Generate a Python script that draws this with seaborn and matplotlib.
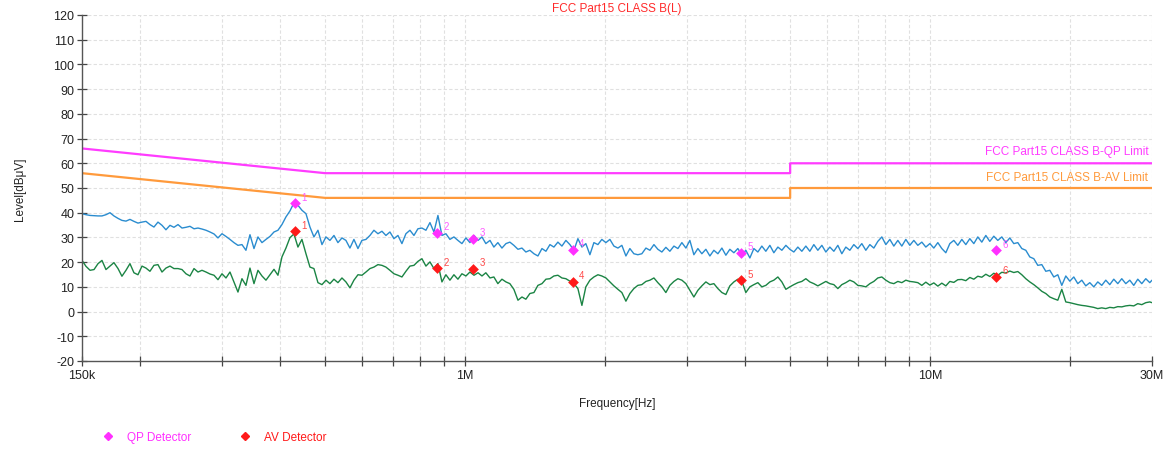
import numpy as np
import pandas as pd
import matplotlib
matplotlib.use("Agg")
import matplotlib.pyplot as plt
import matplotlib.transforms as mtransforms
from matplotlib.lines import Line2D
import seaborn as sns

# ---------------- data ----------------
freq_khz = [150.0, 153.0, 156.1, 159.2, 162.4, 165.6, 168.9, 172.3, 175.7, 179.3,
            182.8, 186.5, 190.2, 194.0, 197.9, 201.9, 205.9, 210.0, 214.2, 218.5,
            222.9, 227.3, 231.9, 236.5, 241.3, 246.1, 251.0, 256.0, 261.2, 266.4,
            271.7, 277.2, 282.7, 288.4, 294.1, 300.0, 306.0, 312.1, 318.3, 324.7,
            331.2, 337.8, 344.6, 351.5, 358.5, 365.7, 373.0, 380.4, 388.1, 395.8,
            403.7, 411.8, 420.0, 428.4, 437.0, 445.7, 454.7, 463.8, 473.0, 482.5,
            492.2, 502.0, 512.0, 522.3, 532.7, 543.4, 554.2, 565.3, 576.6, 588.2,
            599.9, 611.9, 624.2, 636.6, 649.4, 662.4, 675.6, 689.1, 702.9, 717.0,
            731.3, 745.9, 760.9, 776.1, 791.6, 807.4, 823.6, 840.1, 856.9, 874.0,
            891.5, 909.3, 927.5, 946.0, 965.0, 984.3, 1004, 1024, 1045, 1066,
            1087, 1108, 1131, 1153, 1176, 1200, 1224, 1248, 1273, 1299,
            1325, 1351, 1378, 1406, 1434, 1463, 1492, 1522, 1552, 1583,
            1615, 1647, 1680, 1714, 1748, 1783, 1818, 1855, 1892, 1930,
            1968, 2008, 2048, 2089, 2131, 2173, 2217, 2261, 2306, 2352,
            2399, 2448, 2497, 2547, 2597, 2649, 2702, 2756, 2812, 2868,
            2925, 2984, 3043, 3104, 3166, 3229, 3294, 3360, 3427, 3496,
            3566, 3637, 3709, 3784, 3859, 3937, 4015, 4096, 4178, 4261,
            4346, 4433, 4522, 4612, 4705, 4799, 4895, 4992, 5092, 5194,
            5298, 5404, 5512, 5622, 5735, 5850, 5967, 6086, 6208, 6332,
            6458, 6587, 6719, 6853, 6990, 7130, 7273, 7419, 7567, 7718,
            7873, 8030, 8191, 8355, 8522, 8692, 8866, 9043, 9224, 9409,
            9597, 9789, 9985, 10184, 10388, 10596, 10808, 11024, 11244, 11469,
            11699, 11933, 12171, 12415, 12663, 12916, 13175, 13438, 13707, 13981,
            14261, 14546, 14837, 15133, 15436, 15745, 16060, 16381, 16709, 17043,
            17384, 17731, 18086, 18448, 18817, 19193, 19577, 19968, 20368, 20775,
            21191, 21614, 22046, 22487, 22937, 23395, 23863, 24340, 24827, 25324,
            25830, 26347, 26874, 27412, 27960, 28519, 29090, 29672, 30000]

qp_level = [39.6, 39.2, 38.9, 38.8, 38.7, 38.7, 39.2, 40.0, 38.7, 37.7,
            36.9, 36.6, 37.3, 36.5, 35.8, 36.2, 36.5, 35.2, 34.2, 36.2,
            34.9, 33.1, 34.9, 34.1, 35.2, 33.8, 34.1, 34.5, 33.5, 33.8,
            33.4, 32.9, 32.2, 31.4, 29.8, 31.5, 30.4, 29.2, 27.9, 26.8,
            27.1, 24.8, 31.1, 25.5, 30.2, 27.9, 29.2, 30.4, 32.2, 32.9,
            35.2, 38.3, 40.7, 44.0, 43.0, 41.0, 39.6, 34.2, 30.2, 32.9,
            27.1, 30.2, 28.8, 30.8, 27.9, 29.8, 28.8, 25.7, 29.2, 25.5,
            28.8, 29.2, 30.8, 32.9, 31.5, 32.5, 30.8, 32.2, 29.5, 30.8,
            27.5, 31.5, 32.9, 30.8, 33.5, 33.8, 32.9, 36.0, 32.2, 38.9,
            30.8, 31.5, 29.2, 30.2, 28.8, 27.5, 29.8, 27.9, 30.8, 28.8,
            30.2, 27.5, 28.8, 26.1, 27.9, 25.7, 27.5, 28.1, 26.8, 25.2,
            25.7, 24.1, 24.8, 23.4, 22.5, 25.5, 24.4, 27.1, 26.1, 28.1,
            26.5, 28.8, 27.1, 24.8, 29.5, 26.1, 27.5, 23.0, 27.9, 27.1,
            29.2, 27.9, 29.2, 26.5, 25.7, 26.8, 22.5, 25.5, 23.4, 23.0,
            23.4, 25.7, 24.8, 27.1, 25.2, 24.1, 26.0, 24.4, 26.5, 25.5,
            27.9, 25.7, 28.8, 23.0, 25.5, 23.4, 25.2, 22.5, 24.8, 23.4,
            25.7, 22.8, 25.2, 23.8, 25.5, 23.0, 24.8, 21.7, 25.5, 24.1,
            26.5, 24.4, 26.8, 23.8, 26.1, 24.8, 26.8, 25.2, 24.1, 26.1,
            24.4, 26.5, 24.4, 27.1, 24.8, 26.8, 24.1, 26.1, 24.4, 26.8,
            23.4, 26.1, 24.8, 27.1, 25.5, 27.5, 24.8, 27.1, 25.7, 28.4,
            30.2, 27.1, 29.2, 26.5, 28.8, 26.5, 29.2, 26.8, 28.8, 26.8,
            28.1, 26.1, 27.5, 25.7, 27.9, 25.5, 23.8, 27.5, 28.8, 26.8,
            29.2, 27.1, 29.5, 27.5, 30.2, 28.1, 30.8, 28.4, 30.5, 28.8,
            30.2, 27.9, 29.8, 27.5, 27.9, 25.5, 24.8, 22.1, 21.4, 18.7,
            19.0, 16.3, 16.7, 14.0, 14.9, 10.6, 14.4, 12.3, 14.0, 11.3,
            12.7, 10.4, 11.7, 10.0, 12.0, 10.6, 12.7, 10.9, 13.1, 11.3,
            13.3, 11.3, 12.7, 10.6, 13.1, 11.3, 13.3, 11.7, 12.7]

av_level = [20.7, 18.3, 16.7, 17.0, 19.4, 20.7, 17.0, 18.4, 19.8, 17.4,
            14.3, 16.7, 19.4, 15.7, 14.9, 18.4, 17.6, 16.3, 18.7, 19.0,
            16.0, 17.6, 18.4, 17.4, 17.4, 17.0, 15.3, 14.4, 17.4, 16.0,
            16.7, 16.0, 15.2, 14.7, 12.9, 15.3, 13.6, 16.0, 12.0, 7.9,
            13.3, 10.6, 17.6, 11.3, 16.7, 14.4, 12.7, 14.9, 17.1, 14.7,
            22.1, 25.7, 29.9, 31.4, 26.1, 29.2, 23.4, 18.0, 17.4, 11.7,
            10.9, 12.7, 11.3, 13.1, 11.7, 13.6, 12.0, 9.6, 12.7, 14.9,
            14.7, 16.0, 17.4, 18.0, 19.0, 18.7, 18.0, 16.7, 15.3, 14.7,
            14.0, 16.3, 18.4, 18.7, 20.3, 21.4, 18.4, 20.1, 17.4, 19.4,
            12.0, 14.9, 12.7, 14.9, 13.1, 15.3, 14.4, 16.0, 14.7, 15.7,
            14.4, 15.7, 13.6, 14.0, 11.3, 13.1, 12.0, 11.3, 9.0, 4.6,
            5.9, 5.0, 7.3, 7.7, 10.6, 11.3, 13.1, 13.3, 14.4, 14.7,
            13.6, 13.3, 12.3, 11.3, 9.3, 2.5, 10.0, 12.7, 14.0, 14.9,
            14.4, 13.6, 12.0, 10.4, 9.0, 7.7, 4.2, 7.3, 9.3, 10.6,
            10.9, 12.2, 12.7, 13.6, 11.7, 10.0, 7.7, 10.6, 12.2, 13.3,
            12.7, 11.3, 8.6, 5.9, 8.6, 10.4, 12.0, 10.9, 11.3, 9.3,
            7.7, 6.9, 10.4, 12.0, 13.1, 12.2, 7.7, 10.0, 10.9, 11.7,
            10.0, 10.6, 12.0, 12.7, 14.0, 12.0, 9.0, 10.0, 10.9, 11.7,
            12.2, 13.3, 12.0, 11.3, 10.4, 11.3, 12.2, 11.3, 10.9, 9.3,
            10.9, 11.7, 12.7, 12.0, 10.6, 10.4, 10.0, 11.3, 12.2, 13.6,
            14.0, 12.7, 11.7, 11.3, 12.2, 11.7, 12.7, 12.2, 12.0, 11.7,
            10.6, 11.9, 10.7, 11.6, 10.3, 11.5, 10.4, 12.2, 11.8, 12.9,
            13.0, 12.5, 13.8, 13.1, 14.3, 13.9, 15.1, 14.2, 15.5, 14.7,
            15.9, 15.6, 16.4, 15.8, 16.2, 14.9, 13.3, 12.0, 10.9, 9.6,
            8.2, 7.3, 5.9, 5.2, 4.6, 9.0, 3.9, 3.6, 3.2, 2.8,
            2.5, 2.3, 2.0, 1.7, 1.2, 1.5, 1.2, 1.7, 1.5, 2.0,
            1.9, 2.3, 2.5, 2.3, 3.2, 2.8, 3.6, 3.9, 3.6]

limit_freq_khz = [150, 500, 5000, 5000, 30000]
qp_limit = [66, 56, 56, 60, 60]
av_limit = [56, 46, 46, 50, 50]

marker_freq_khz = [430, 871, 1041, 1706, 3920, 13860]
qp_marker = [43.9, 31.9, 29.5, 25.0, 23.8, 24.8]
av_marker = [32.6, 17.6, 17.4, 12.0, 12.7, 14.0]
marker_labels = ["1", "2", "3", "4", "5", "6"]

y_ticks = list(range(-20, 121, 10))
x_major_khz = [150, 1000, 10000, 30000]
x_major_labels = ["150k", "1M", "10M", "30M"]
x_minor_khz = [200, 300, 400, 500, 600, 700, 800, 900,
               2000, 3000, 4000, 5000, 6000, 7000, 8000, 9000, 20000]

title = "FCC Part15 CLASS B(L)"
qp_limit_name = "FCC Part15 CLASS B-QP Limit"
av_limit_name = "FCC Part15 CLASS B-AV Limit"

# ---------------- styling ----------------
C_QP_LIM = "#ff3cff"
C_AV_LIM = "#ff9a3c"
C_QP_TRACE = "#2a8ccf"
C_AV_TRACE = "#1b8444"
C_QP_MARK = "#ff30ff"
C_AV_MARK = "#ff1a1a"

sns.set_theme(style="white")
plt.rcParams["font.family"] = ["Liberation Sans", "DejaVu Sans"]
plt.rcParams["axes.unicode_minus"] = False

W, H = 1172, 452
fig = plt.figure(figsize=(W / 100, H / 100), dpi=100)
ax = fig.add_axes([82 / W, 1 - 362 / H, 1070 / W, 346 / H])
ax.set_xscale("log")

scan = pd.DataFrame({"freq": np.array(freq_khz) * 1e3,
                     "QP": qp_level, "AV": av_level})
lim = pd.DataFrame({"freq": np.array(limit_freq_khz) * 1e3,
                    "QP": qp_limit, "AV": av_limit})
mk = pd.DataFrame({"freq": np.array(marker_freq_khz) * 1e3,
                   "QP": qp_marker, "AV": av_marker})

sns.lineplot(data=scan, x="freq", y="QP", ax=ax, color=C_QP_TRACE, lw=1.0,
             estimator=None, sort=False)
sns.lineplot(data=scan, x="freq", y="AV", ax=ax, color=C_AV_TRACE, lw=1.0,
             estimator=None, sort=False)
sns.lineplot(data=lim, x="freq", y="QP", ax=ax, color=C_QP_LIM, lw=1.6,
             estimator=None, sort=False)
sns.lineplot(data=lim, x="freq", y="AV", ax=ax, color=C_AV_LIM, lw=1.6,
             estimator=None, sort=False)
sns.scatterplot(data=mk, x="freq", y="QP", ax=ax, color=C_QP_MARK, marker="D",
                s=30, linewidth=0, zorder=5)
sns.scatterplot(data=mk, x="freq", y="AV", ax=ax, color=C_AV_MARK, marker="D",
                s=30, linewidth=0, zorder=5)

for f, q, a, t in zip(mk["freq"], qp_marker, av_marker, marker_labels):
    ax.annotate(t, (f, q), xytext=(4.5, 2.5), textcoords="offset points",
                color="#ff5cff", fontsize=7)
    ax.annotate(t, (f, a), xytext=(4.5, 2.5), textcoords="offset points",
                color="#ff4a4a", fontsize=7)

ax.set_xlim(150e3, 30e6)
ax.set_ylim(-20, 120)
ax.set_yticks(y_ticks)
ax.set_xticks([v * 1e3 for v in x_major_khz])
ax.set_xticklabels(x_major_labels)
ax.set_xticks([v * 1e3 for v in x_minor_khz], minor=True)
ax.xaxis.set_minor_formatter(plt.NullFormatter())

grid_kw = dict(color="#e0e0e0", linestyle=(0, (3, 2)), linewidth=0.8)
ax.grid(True, axis="y", which="major", **grid_kw)
ax.grid(True, axis="x", which="both", **grid_kw)
ax.set_axisbelow(True)

for s in ["top", "right"]:
    ax.spines[s].set_visible(False)
for s in ["left", "bottom"]:
    ax.spines[s].set_color("#555555")
    ax.spines[s].set_linewidth(1.0)

ax.tick_params(axis="both", which="both", direction="inout", length=7,
               width=0.9, color="#444444", labelsize=9, labelcolor="#222222",
               left=True, bottom=True, pad=2)

ax.set_xlabel("Frequency[Hz]", fontsize=8.5, color="#222222", labelpad=12)
ax.set_ylabel("Level[dBμV]", fontsize=8.5, color="#222222", labelpad=20)

fig.text(617 / W, 1 - 9 / H, title, color="#ff2a2a", fontsize=8.5,
         ha="center", va="center")

blend = mtransforms.blended_transform_factory(ax.transAxes, ax.transData)
ax.text(0.9965, 65.0, qp_limit_name, transform=blend, ha="right", va="center",
        color=C_QP_LIM, fontsize=8.5)
ax.text(0.9965, 54.5, av_limit_name, transform=blend, ha="right", va="center",
        color=C_AV_LIM, fontsize=8.5)

handles = [Line2D([], [], marker="D", ms=4, color=C_QP_MARK, lw=0),
           Line2D([], [], marker="D", ms=4, color=C_AV_MARK, lw=0)]
fig.legend(handles, ["QP Detector", "AV Detector"], loc="center left",
           bbox_to_anchor=(90 / W, 1 - 438 / H), ncol=2, frameon=False,
           labelcolor=[C_QP_MARK, C_AV_MARK], fontsize=8.5,
           handlelength=1.2, handletextpad=1.0, columnspacing=4.0)

fig.savefig("out.png", dpi=100)
